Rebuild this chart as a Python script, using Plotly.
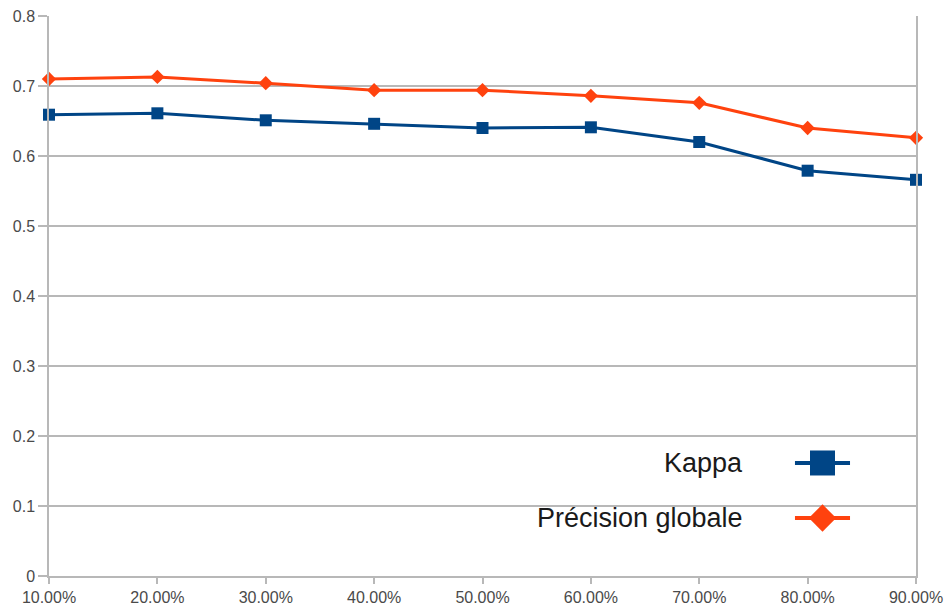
import plotly.graph_objects as go

# Training-set share (percent) and resulting scores
parts = [10, 20, 30, 40, 50, 60, 70, 80, 90]
tick_labels = ["10.00%", "20.00%", "30.00%", "40.00%", "50.00%",
               "60.00%", "70.00%", "80.00%", "90.00%"]
kappa = [0.659, 0.661, 0.651, 0.646, 0.640, 0.641, 0.620, 0.579, 0.566]
precision = [0.710, 0.713, 0.704, 0.694, 0.694, 0.686, 0.676, 0.640, 0.626]

series_names = ["Kappa", "Précision globale"]
BLUE = "#004586"
ORANGE = "#ff420e"
GRID = "#b8b8b8"
FONT = "Liberation Sans, Arial, sans-serif"

fig = go.Figure()

fig.add_trace(go.Scatter(
    x=parts, y=kappa, mode="lines+markers", name=series_names[0],
    line=dict(color=BLUE, width=3),
    marker=dict(symbol="square", size=12, color=BLUE),
    showlegend=False, cliponaxis=False,
))
fig.add_trace(go.Scatter(
    x=parts, y=precision, mode="lines+markers", name=series_names[1],
    line=dict(color=ORANGE, width=3),
    marker=dict(symbol="diamond", size=11, color=ORANGE),
    showlegend=False, cliponaxis=False,
))

# Hand-built legend: text on the left, symbol on the right, on an overlay axis
leg_y = [0.2018, 0.1036]
leg_x0, leg_x1 = 0.8604, 0.9239
leg_styles = [(BLUE, "square", 25), (ORANGE, "diamond", 21)]
for name, y, (col, sym, sz) in zip(series_names, leg_y, leg_styles):
    fig.add_trace(go.Scatter(
        x=[leg_x0, leg_x1], y=[y, y], mode="lines", xaxis="x2", yaxis="y2",
        line=dict(color=col, width=4), showlegend=False, hoverinfo="skip",
    ))
    fig.add_trace(go.Scatter(
        x=[(leg_x0 + leg_x1) / 2], y=[y], mode="markers", xaxis="x2", yaxis="y2",
        marker=dict(symbol=sym, size=sz, color=col), showlegend=False,
        hoverinfo="skip",
    ))
    fig.add_annotation(
        x=0.8028, y=y, xref="paper", yref="paper", text=name,
        showarrow=False, xanchor="right", yanchor="middle",
        font=dict(family=FONT, size=27, color="#1a1a1a"),
    )

# White panel behind the legend hides the gridlines there
fig.add_shape(type="rect", xref="paper", yref="paper",
              x0=0.8085, x1=0.9896, y0=0.012, y1=0.27,
              fillcolor="white", line=dict(width=0), layer="between")

fig.update_layout(
    width=944, height=610,
    margin=dict(l=49, r=28, t=16, b=34, autoexpand=False),
    paper_bgcolor="white", plot_bgcolor="white",
    font=dict(family=FONT, size=16, color="#4a4a4a"),
    xaxis=dict(
        range=[10, 90], tickvals=parts, ticktext=tick_labels,
        showgrid=False, zeroline=False, automargin=False,
        showline=True, linecolor=GRID, linewidth=1.5, mirror=False,
        ticks="outside", ticklen=6, tickcolor=GRID, tickwidth=1.5,
        tickfont=dict(size=16, color="#4a4a4a"),
    ),
    yaxis=dict(
        range=[0, 0.8], tickvals=[0, 0.1, 0.2, 0.3, 0.4, 0.5, 0.6, 0.7, 0.8],
        ticktext=["0", "0.1", "0.2", "0.3", "0.4", "0.5", "0.6", "0.7", "0.8"],
        showgrid=True, gridcolor=GRID, gridwidth=1.5, zeroline=False,
        automargin=False,
        showline=True, linecolor=GRID, linewidth=1.5, mirror=True,
        ticks="outside", ticklen=9, tickcolor=GRID, tickwidth=1.5,
        tickfont=dict(size=16, color="#4a4a4a"),
    ),
    xaxis2=dict(overlaying="x", range=[0, 1], visible=False, fixedrange=True),
    yaxis2=dict(overlaying="y", range=[0, 1], visible=False, fixedrange=True),
)

fig.write_html("out.html")
